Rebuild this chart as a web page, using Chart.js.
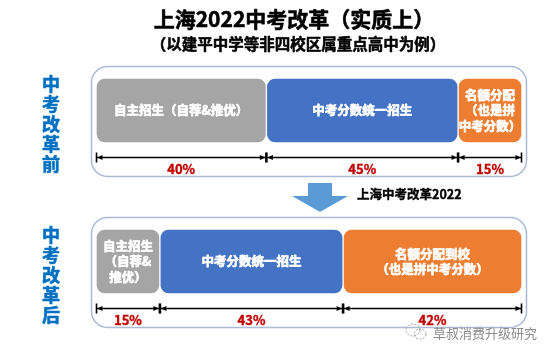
<!DOCTYPE html>
<html>
<head>
<meta charset="utf-8">
<script src="https://cdn.jsdelivr.net/npm/chart.js@4/dist/chart.umd.min.js"></script>
<style>
html,body{margin:0;padding:0;background:#fff;}
#c{display:block;}
</style>
</head>
<body>
<canvas id="c" width="554" height="358"></canvas>
<script>
// ---- data ----
const categories = ['中考改革前', '中考改革后'];
const seriesNames = ['自主招生', '中考分数统一招生', '名额分配'];
const selfRecruit = [40, 15];
const unifiedExam = [45, 43];
const quotaAlloc = [15, 42];
const selfRecruitText = [['自主招生（自荐&推优）'], ['自主招生', '（自荐&', '推优）']];
const unifiedExamText = [['中考分数统一招生'], ['中考分数统一招生']];
const quotaAllocText = [['名额分配', '（也是拼', '中考分数）'], ['名额分配到校', '（也是拼中考分数）']];
const titleText = '上海2022中考改革（实质上）';
const subtitleText = '（以建平中学等非四校区属重点高中为例）';
const arrowText = '上海中考改革2022';
const watermarkText = '草叔消费升级研究';

const colors = ['#A5A5A5', '#4472C4', '#ED7D31'];
const barTexts = [selfRecruitText, unifiedExamText, quotaAllocText];
const FONT = '"Noto Sans CJK SC", "Noto Sans", sans-serif';

function boldText(ctx, t, x, y, color, sw) {
  ctx.fillStyle = color;
  ctx.strokeStyle = color;
  ctx.lineWidth = sw;
  ctx.lineJoin = 'round';
  ctx.strokeText(t, x, y);
  ctx.fillText(t, x, y);
}

const deco = {
  id: 'deco',
  beforeDatasetsDraw(chart) {
    const ctx = chart.ctx, ca = chart.chartArea;
    ctx.save();
    categories.forEach((c, i) => {
      const el = chart.getDatasetMeta(0).data[i];
      const p = el.getProps(['x', 'y', 'base', 'height'], true);
      const top = p.y - p.height / 2 - 12;
      const bottom = p.y + p.height / 2 + 33;
      ctx.beginPath();
      ctx.roundRect(ca.left - 4.5, top + 0.5, ca.right - ca.left + 9, bottom - top, 16);
      ctx.strokeStyle = '#A9BBD6';
      ctx.lineWidth = 1.5;
      ctx.stroke();
    });
    ctx.restore();
  },
  afterDatasetsDraw(chart) {
    const ctx = chart.ctx, ca = chart.chartArea;
    ctx.save();
    ctx.textAlign = 'center';
    ctx.textBaseline = 'middle';
    chart.data.datasets.forEach((ds, d) => {
      chart.getDatasetMeta(d).data.forEach((el, i) => {
        const p = el.getProps(['x', 'y', 'base', 'height'], true);
        const x0 = Math.min(p.x, p.base), x1 = Math.max(p.x, p.base);
        const mid = (x0 + x1) / 2;
        // text in bar
        const lines = barTexts[d][i];
        const lh = 15.5;
        ctx.font = 'bold 12.5px ' + FONT;
        lines.forEach((t, k) => {
          boldText(ctx, t, mid, p.y + (k - (lines.length - 1) / 2) * lh, '#ffffff', 0.7);
        });
        // dimension line
        const ly = Math.round(p.y + p.height / 2 + 14) + 0.5;
        const a = x0 + 0.5, b = x1 - 0.5;
        ctx.strokeStyle = '#000';
        ctx.fillStyle = '#000';
        ctx.lineWidth = 1.6;
        ctx.beginPath();
        ctx.moveTo(a, ly); ctx.lineTo(b, ly);
        ctx.moveTo(a, ly - 5); ctx.lineTo(a, ly + 5);
        ctx.moveTo(b, ly - 5); ctx.lineTo(b, ly + 5);
        ctx.stroke();
        ctx.beginPath();
        ctx.moveTo(a + 0.5, ly); ctx.lineTo(a + 6, ly - 2.5); ctx.lineTo(a + 6, ly + 2.5); ctx.closePath();
        ctx.moveTo(b - 0.5, ly); ctx.lineTo(b - 6, ly - 2.5); ctx.lineTo(b - 6, ly + 2.5); ctx.closePath();
        ctx.fill();
        // percent
        ctx.font = 'bold 13px ' + FONT;
        boldText(ctx, ds.data[i] + '%', mid, ly + 12, '#C00000', 0.4);
      });
    });
    // side labels
    categories.forEach((c, i) => {
      const el = chart.getDatasetMeta(0).data[i];
      const cy = el.y + 14;
      ctx.font = 'bold 18px ' + FONT;
      const chars = Array.from(c);
      chars.forEach((ch, k) => {
        boldText(ctx, ch, 51, cy + (k - (chars.length - 1) / 2) * 20, '#0070C0', 0.6);
      });
    });
    // title
    ctx.font = 'bold 21px ' + FONT;
    boldText(ctx, titleText, 294, 19, '#000', 0.6);
    ctx.font = 'bold 15.5px ' + FONT;
    boldText(ctx, subtitleText, 298, 44, '#000', 0.5);
    // arrow
    const ax = 320;
    ctx.fillStyle = '#5B9BD5';
    ctx.beginPath();
    ctx.moveTo(ax - 12, 183); ctx.lineTo(ax + 12, 183); ctx.lineTo(ax + 12, 196);
    ctx.lineTo(ax + 28, 196); ctx.lineTo(ax, 212); ctx.lineTo(ax - 28, 196);
    ctx.lineTo(ax - 12, 196); ctx.closePath();
    ctx.fill();
    ctx.textAlign = 'left';
    ctx.font = 'bold 12.5px ' + FONT;
    boldText(ctx, arrowText, 357, 194, '#000', 0.4);
    // watermark
    ctx.strokeStyle = '#A0A0A0';
    ctx.lineWidth = 1;
    ctx.setLineDash([2, 1.5]);
    ctx.beginPath(); ctx.ellipse(413, 330, 7, 6, 0, 0, Math.PI * 2); ctx.stroke();
    ctx.beginPath(); ctx.ellipse(420, 334, 6, 5, 0, 0, Math.PI * 2); ctx.stroke();
    ctx.setLineDash([]);
    ctx.fillStyle = '#8C8C8C';
    ctx.font = '13px ' + FONT;
    ctx.fillText(watermarkText, 433, 333);
    ctx.restore();
  }
};

const radius = { topLeft: 9, topRight: 9, bottomLeft: 9, bottomRight: 9 };

new Chart(document.getElementById('c'), {
  type: 'bar',
  data: {
    labels: categories,
    datasets: [
      { label: seriesNames[0], data: selfRecruit, backgroundColor: colors[0] },
      { label: seriesNames[1], data: unifiedExam, backgroundColor: colors[1] },
      { label: seriesNames[2], data: quotaAlloc, backgroundColor: colors[2] }
    ].map(d => Object.assign(d, {
      borderRadius: radius, borderSkipped: false, borderWidth: 1, borderColor: '#ffffff', barThickness: 65
    }))
  },
  options: {
    indexAxis: 'y',
    responsive: false,
    animation: false,
    devicePixelRatio: 1,
    layout: { padding: { left: 96, right: 32, top: 35, bottom: 21 } },
    plugins: { legend: { display: false }, tooltip: { enabled: false }, title: { display: false } },
    scales: {
      x: { stacked: true, min: 0, max: 100, display: false },
      y: { stacked: true, display: false }
    }
  },
  plugins: [deco]
});
</script>
</body>
</html>
